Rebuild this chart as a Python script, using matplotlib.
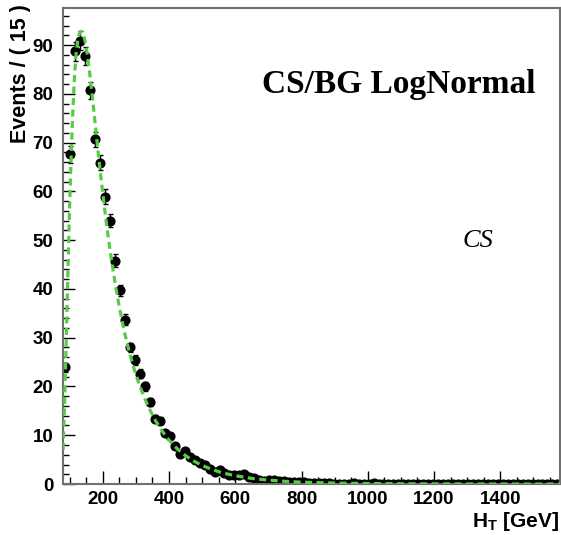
import matplotlib
matplotlib.use('Agg')
import matplotlib.pyplot as plt
from matplotlib.ticker import MultipleLocator
import numpy as np

# binning of the histogram (GeV)
bin_lo = 80
bin_width = 15

# events per bin
counts = [
    23.9, 67.6, 88.7, 90.9, 87.8, 80.7, 70.7, 65.9, 58.9, 54.0,
    45.8, 39.7, 33.7, 28.0, 25.5, 22.6, 20.0, 16.8, 13.4, 13.0,
    10.5, 9.8, 7.7, 6.2, 6.7, 5.5, 5.0, 4.3, 3.9, 3.1,
    2.5, 2.9, 2.3, 1.9, 1.8, 1.9, 2.1, 1.4, 1.2, 0.9,
    0.7, 0.9, 0.8, 0.7, 0.6, 0.5, 0.5, 0.4, 0.4, 0.3,
    0.3, 0.2, 0.2, 0.2, 0.1, 0.1, 0.1, 0.1, 0.2, 0.1,
    0.1, 0.1, 0.2, 0.1, 0.0, 0.1, 0.0, 0.1, 0.0, 0.0,
    0.1, 0.0, 0.0, 0.0, 0.1, 0.0, 0.0, 0.0, 0.0, 0.0,
    0.0, 0.1, 0.0, 0.0, 0.0, 0.0, 0.0, 0.0, 0.0, 0.0,
    0.0, 0.0, 0.0, 0.0, 0.0, 0.0, 0.0, 0.0, 0.0, 0.0,
]
errors = [
    1.0, 1.7, 1.9, 1.9, 1.9, 1.8, 1.5, 1.6, 1.5, 1.4,
    1.3, 1.2, 1.1, 1.0, 1.0, 0.9, 0.9, 0.8, 0.7, 0.7,
    0.6, 0.6, 0.5, 0.5, 0.5, 0.45, 0.45, 0.4, 0.4, 0.35,
    0.3, 0.35, 0.3, 0.3, 0.3, 0.3, 0.3, 0.25, 0.2, 0.2,
    0.2, 0.2, 0.2, 0.2, 0.15, 0.15, 0.15, 0.15, 0.15, 0.15,
    0.15, 0.1, 0.1, 0.1, 0.1, 0.1, 0.1, 0.1, 0.1, 0.1,
    0.1, 0.1, 0.1, 0.1, 0.1, 0.1, 0.1, 0.1, 0.1, 0.1,
    0.1, 0.1, 0.1, 0.1, 0.1, 0.1, 0.1, 0.1, 0.1, 0.1,
    0.1, 0.1, 0.1, 0.1, 0.1, 0.1, 0.1, 0.1, 0.1, 0.1,
    0.1, 0.1, 0.1, 0.1, 0.1, 0.1, 0.1, 0.1, 0.1, 0.1,
]

# lognormal fit curve
fit_x = [80, 85, 90, 95, 100, 105, 110, 115, 120, 125, 130, 135, 140, 145,
         150, 160, 170, 180, 190, 200, 210, 220, 230, 240, 250, 265, 280,
         295, 310, 325, 340, 360, 380, 400, 425, 450, 475, 500, 530, 560,
         600, 650, 700, 750, 800, 900, 1000, 1100, 1200, 1400, 1580]
fit_y = [7.0, 17.0, 30.0, 44.0, 57.0, 68.0, 77.0, 84.0, 88.5, 91.2, 92.5,
         92.8, 92.4, 91.3, 89.6, 84.6, 78.5, 72.0, 65.6, 59.6, 54.0, 48.9,
         44.3, 40.1, 36.3, 31.3, 27.1, 23.5, 20.4, 17.8, 15.5, 12.9, 10.8,
         9.0, 7.2, 5.8, 4.7, 3.8, 3.0, 2.3, 1.7, 1.15, 0.8, 0.55, 0.38,
         0.19, 0.1, 0.05, 0.03, 0.01, 0.0]

centers = bin_lo + bin_width * (np.arange(len(counts)) + 0.5)

fig = plt.figure(figsize=(5.61, 5.35), dpi=100)
ax = fig.add_axes([0.1123, 0.0953, 0.8857, 0.8897])

ax.errorbar(centers, counts, yerr=errors, fmt='o', color='black',
            ms=6.3, elinewidth=1, capsize=1.8, capthick=1, zorder=2)
ax.plot(fit_x, fit_y, color='#55cc44', lw=2.3, linestyle=(0, (2.2, 1.4)),
        zorder=3)

ax.set_xlim(80, 1580)
ax.set_ylim(0, 97.6)

ax.xaxis.set_major_locator(MultipleLocator(200))
ax.xaxis.set_minor_locator(MultipleLocator(50))
ax.yaxis.set_major_locator(MultipleLocator(10))
ax.yaxis.set_minor_locator(MultipleLocator(2))

ax.tick_params(which='both', direction='in', top=False, right=False,
               colors='black', width=1)
ax.tick_params(axis='y', which='major', length=8.6, pad=7)
ax.tick_params(axis='y', which='minor', length=4.3)
ax.tick_params(axis='x', which='major', length=9.4, pad=5)
ax.tick_params(axis='x', which='minor', length=4.7)

for lab in ax.get_xticklabels() + ax.get_yticklabels():
    lab.set_fontfamily('Liberation Sans')
    lab.set_fontweight('bold')
    lab.set_fontsize(13.5)

for s in ax.spines.values():
    s.set_color('#707070')
    s.set_linewidth(1.5)

plt.rcParams['mathtext.fontset'] = 'custom'
plt.rcParams['mathtext.rm'] = 'Liberation Sans:bold'
plt.rcParams['mathtext.bf'] = 'Liberation Sans:bold'

fig.text(21 / 561, 1 - 4 / 535, 'Events / ( 15 )', rotation=90,
         ha='center', va='top', fontsize=15.5, fontweight='bold',
         family='Liberation Sans')
fig.text(559 / 561, 1 - 526.7 / 535, r'$\mathbf{H_{T}}$ [GeV]',
         ha='right', va='baseline', fontsize=15, fontweight='bold',
         family='Liberation Sans')

fig.text(536 / 561, 1 - 93 / 535, 'CS/BG LogNormal', ha='right',
         va='baseline', fontsize=24, fontweight='bold',
         family='Liberation Serif')
fig.text(478 / 561, 1 - 246.7 / 535, 'CS', ha='center', va='baseline',
         fontsize=19, style='italic', family='Liberation Serif')

fig.savefig('out.png', dpi=100)
